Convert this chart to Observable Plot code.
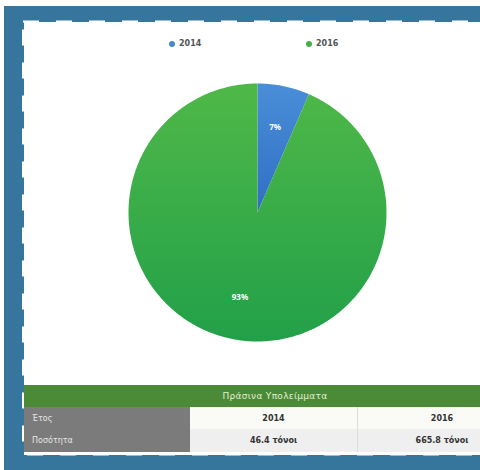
<!DOCTYPE html>
<html>
<head>
<meta charset="utf-8">
<script src="https://cdn.jsdelivr.net/npm/d3@7"></script>
<script src="https://cdn.jsdelivr.net/npm/@observablehq/plot@0.6"></script>
<style>
  html, body { margin: 0; padding: 0; background: #fff; }
  #wrap { position: relative; width: 480px; height: 470px; overflow: hidden; font-family: "DejaVu Sans", sans-serif; }
  #bg { position: absolute; left: 4px; top: 6px; right: 0; bottom: 0; background: #36769c; }
  #panel { position: absolute; left: 24px; top: 22px; width: 456px; height: 433px; background: #fff; }
  #frame { position: absolute; left: 0; top: 0; }
  #legend { position: absolute; top: 39px; left: 0; width: 480px; height: 14px; font-size: 8px; font-weight: bold; color: #555; }
  .li { position: absolute; top: 0; display: flex; align-items: center; gap: 4px; }
  .dot { width: 6px; height: 6px; border-radius: 50%; display: inline-block; }
  #chart { position: absolute; left: 24px; top: 52px; }
  .cell { position: absolute; box-sizing: border-box; display: flex; align-items: center; font-size: 8px; }
</style>
</head>
<body>
<div id="wrap">
  <div id="bg"></div>
  <div id="panel"></div>
  <div id="legend"></div>
  <div id="chart"></div>
  <div id="table"></div>
  <svg id="frame" width="480" height="470"></svg>
</div>
<script>
// ---- data ----
const years = ["2014", "2016"];
const amounts = [46.4, 665.8];
const sliceLabels = ["7%", "93%"];
const tableTitle = "Πράσινα Υπολείμματα";
const rowHeaders = ["Έτος", "Ποσότητα"];
const amountLabels = ["46.4 τόνοι", "665.8 τόνοι"];
const legendColors = ["#4a88cc", "#45b04a"];

// ---- pie geometry via d3.pie ----
const arcs = d3.pie().sort(null).startAngle(0).endAngle(2 * Math.PI)(amounts);
const poly = [];
arcs.forEach((a, i) => {
  poly.push({series: years[i], x: 0, y: 0});
  const n = Math.max(4, Math.ceil((a.endAngle - a.startAngle) / (Math.PI / 180)));
  for (let k = 0; k <= n; k++) {
    const t = a.startAngle + (a.endAngle - a.startAngle) * k / n;
    poly.push({series: years[i], x: Math.sin(t), y: Math.cos(t)});
  }
});
const labelPts = arcs.map((a, i) => {
  const m = (a.startAngle + a.endAngle) / 2;
  return {series: years[i], label: sliceLabels[i], x: 0.67 * Math.sin(m), y: 0.67 * Math.cos(m)};
});

const cx = 257 - 24, cy = 212 - 52, R = 129;
const chart = Plot.plot({
  width: 456,
  height: 320,
  margin: 0,
  x: {domain: [-1, 1], range: [cx - R, cx + R], axis: null},
  y: {domain: [-1, 1], range: [cy + R, cy - R], axis: null},
  color: {domain: years, range: ["url(#gBlue)", "url(#gGreen)"]},
  marks: [
    Plot.line(poly, {x: "x", y: "y", z: "series", fill: "series", stroke: null}),
    Plot.text(labelPts, {x: "x", y: "y", text: "label", fill: "white", fontSize: 8, fontWeight: "bold"})
  ]
});
const defs = d3.select(chart).insert("defs", ":first-child");
const gb = defs.append("linearGradient").attr("id", "gBlue").attr("x1", 0).attr("y1", 0).attr("x2", 0).attr("y2", 1);
gb.append("stop").attr("offset", "0%").attr("stop-color", "#4a8ed8");
gb.append("stop").attr("offset", "100%").attr("stop-color", "#2f6fc4");
const gg = defs.append("linearGradient").attr("id", "gGreen").attr("x1", 0).attr("y1", 0).attr("x2", 0).attr("y2", 1);
gg.append("stop").attr("offset", "0%").attr("stop-color", "#4fb848");
gg.append("stop").attr("offset", "100%").attr("stop-color", "#22a049");
document.getElementById("chart").appendChild(chart);

// ---- legend ----
const legend = d3.select("#legend");
const legendX = [169, 306];
years.forEach((y, i) => {
  const li = legend.append("div").attr("class", "li").style("left", legendX[i] + "px");
  li.append("span").attr("class", "dot").style("background", legendColors[i]);
  li.append("span").text(y);
});

// ---- table ----
const table = d3.select("#table");
function cell(x, y, w, h, bg, txt, color, align, extra) {
  const c = table.append("div").attr("class", "cell")
    .style("left", x + "px").style("top", y + "px")
    .style("width", w + "px").style("height", h + "px")
    .style("background", bg).style("color", color)
    .style("justify-content", align)
    .text(txt);
  if (extra) extra(c);
  return c;
}
cell(24, 385, 502, 22, "#4b8a36", tableTitle, "#e4efd6", "center", c => c.style("font-size", "9px").style("letter-spacing", "0.3px"));
const rowTops = [407, 429];
const rowH = [22, 23];
const rowBg = ["#fafaf6", "#efefef"];
const rowVals = [years, amountLabels];
rowTops.forEach((t, r) => {
  cell(24, t, 166, rowH[r], "#7b7b7b", rowHeaders[r], "#e6e6e6", "flex-start", c => c.style("padding-left", "8px"));
  cell(190, t, 168, rowH[r], rowBg[r], rowVals[r][0], "#333", "center", c => c.style("font-weight", "bold").style("border-right", "1px solid #ddd"));
  cell(358, t, 168, rowH[r], rowBg[r], rowVals[r][1], "#333", "center", c => c.style("font-weight", "bold"));
});

// ---- dashed frame ----
d3.select("#frame").append("rect")
  .attr("x", 23).attr("y", 21.5).attr("width", 470).attr("height", 433)
  .attr("fill", "none").attr("stroke", "white").attr("stroke-width", 2)
  .attr("stroke-dasharray", "16,17");
</script>
</body>
</html>
